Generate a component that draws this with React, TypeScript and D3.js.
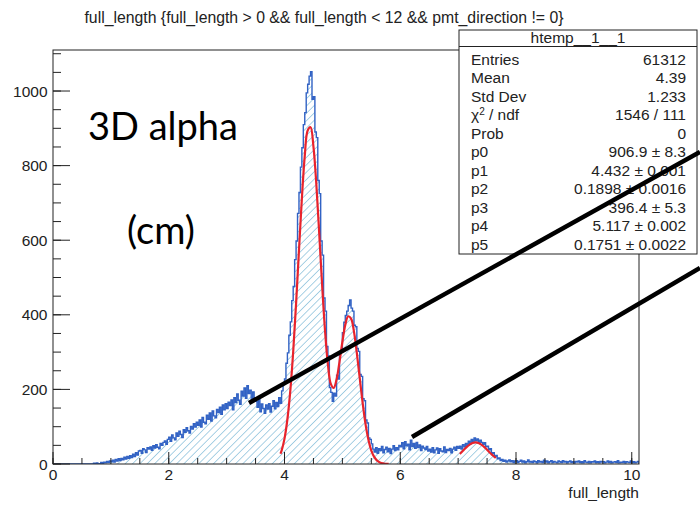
import React from "react";
import * as d3 from "d3";

// ---------------- data ----------------
const BIN_WIDTH = 0.025;
const X_DOMAIN: [number, number] = [0, 10.125];
const Y_DOMAIN: [number, number] = [0, 1110];

// histogram bin contents (bins of 0.025 from 0 to 10.125)
const counts: number[] = [
  0, 0, 0, 0, 0, 0, 0, 0, 0, 0, 0, 0, 0, 0, 0, 0, 0, 0, 0, 0,
  0, 0, 0, 0, 0, 0, 0, 0, 2, 0, 3, 1, 0, 4, 2, 5, 3, 7, 4, 8,
  6, 10, 5, 12, 8, 14, 9, 15, 11, 18, 13, 20, 15, 22, 17, 26, 20, 30, 24, 35,
  36, 29, 41, 38, 31, 44, 40, 46, 37, 49, 43, 52, 45, 41, 55, 50, 58, 62, 53, 66,
  72, 61, 78, 70, 65, 83, 74, 88, 79, 71, 92, 85, 97, 89, 83, 101, 94, 108, 99, 112,
  104, 118, 99, 125, 112, 108, 131, 120, 137, 115, 142, 129, 124, 146, 138, 152, 133, 158, 145, 162,
  149, 166, 157, 172, 145, 178, 165, 188, 171, 160, 195, 182, 204, 176, 210, 189, 198, 172, 193, 178,
  168, 152, 175, 140, 161, 149, 136, 158, 147, 162, 139, 155, 170, 148, 165, 154, 178, 163, 196, 215,
  228, 270, 298, 345, 381, 438, 476, 548, 598, 672, 728, 796, 848, 910, 942, 995, 1018, 1040, 1052, 978,
  985, 890, 875, 760, 725, 598, 560, 445, 410, 315, 290, 205, 192, 168, 190, 182, 238, 228, 298, 300,
  352, 380, 398, 410, 425, 440, 418, 410, 372, 368, 310, 302, 240, 235, 175, 170, 118, 110, 70, 66,
  54, 40, 32, 44, 29, 41, 36, 47, 30, 39, 45, 33, 42, 28, 40, 49, 36, 44, 38, 50,
  46, 57, 41, 60, 49, 53, 38, 64, 47, 55, 42, 58, 44, 51, 36, 48, 43, 39, 47, 35,
  40, 32, 44, 30, 38, 43, 29, 41, 35, 33, 46, 31, 39, 36, 42, 30, 40, 45, 37, 47,
  42, 48, 40, 52, 46, 55, 50, 61, 54, 66, 58, 70, 62, 67, 56, 64, 58, 52, 57, 47,
  48, 38, 41, 29, 30, 20, 23, 14, 16, 9, 12, 7, 10, 5, 8, 11, 6, 9, 4, 8,
  9, 4, 7, 10, 5, 8, 3, 6, 11, 5, 7, 4, 8, 6, 3, 9, 5, 7, 4, 10,
  5, 8, 3, 6, 9, 4, 7, 5, 3, 8, 6, 4, 9, 5, 7, 3, 6, 8, 4, 6,
  3, 7, 5, 8, 4, 6, 3, 9, 5, 4, 7, 3, 6, 5, 8, 4, 6, 3, 7, 5,
  6, 3, 5, 8, 4, 7, 3, 5, 6, 4, 9, 3, 5, 4, 7, 3, 6, 5, 4, 8,
  4, 6, 3, 5, 7,
];

// double-gaussian fit curve (red), sampled values
const fit1X: number[] = [
  3.93, 3.95, 4.0, 4.05, 4.1, 4.15, 4.2, 4.25, 4.3, 4.35, 4.4, 4.45, 4.5, 4.55,
  4.6, 4.65, 4.7, 4.75, 4.8, 4.85, 4.9, 4.95, 5.0, 5.05, 5.1, 5.15, 5.2, 5.25,
  5.3, 5.35, 5.4, 5.45, 5.5, 5.55, 5.6, 5.65, 5.7, 5.75, 5.8,
];
const fit1Y: number[] = [
  27.5, 36, 68, 120, 196, 301, 430, 573, 712, 826, 894, 903, 851, 750,
  618, 480, 358, 267, 215, 204, 227, 274, 327, 373, 396, 390, 355, 297,
  230, 164, 107, 65, 36, 19, 9, 4, 1.6, 0.6, 0.2,
];
// second small fit (red) near 7.3
const fit2X: number[] = [7.03, 7.05, 7.1, 7.15, 7.2, 7.25, 7.3, 7.35, 7.4, 7.45, 7.5, 7.55, 7.6, 7.65];
const fit2Y: number[] = [27, 30, 38, 46, 52, 56.5, 58, 56.5, 52, 46, 38, 30, 23, 16];

const xMajorTicks: number[] = [0, 2, 4, 6, 8, 10];
const xTickLabels: string[] = ["0", "2", "4", "6", "8", "10"];
const yMajorTicks: number[] = [0, 200, 400, 600, 800, 1000];
const yTickLabels: string[] = ["0", "200", "400", "600", "800", "1000"];

const titleText = "full_length {full_length > 0 && full_length < 12 && pmt_direction != 0}";
const xAxisTitle = "full_length";
const statsTitle = "htemp__1__1";
const statsLabels: string[] = ["Entries", "Mean", "Std Dev", "CHI", "Prob", "p0", "p1", "p2", "p3", "p4", "p5"];
const statsValues: string[] = [
  "61312", "4.39", "1.233", "1546 / 111", "0",
  "906.9 ± 8.3", "4.432 ± 0.001", "0.1898 ± 0.0016",
  "396.4 ± 5.3", "5.117 ± 0.002", "0.1751 ± 0.0022",
];

// hand-drawn annotation lines, in data coordinates
const annotationLines: { x1: number; y1: number; x2: number; y2: number }[] = [
  { x1: 3.386, y1: 163.5, x2: 11.178, y2: 836.5 },
  { x1: 6.203, y1: 72.4, x2: 11.178, y2: 525.5 },
];
const overlayTexts: string[] = ["3D alpha", "(cm)"];

// ---------------- layout ----------------
const W = 700;
const H = 507;
const FRAME = { left: 53, right: 639, top: 50, bottom: 464 };
const FONT = "'Liberation Sans', Arial, Helvetica, sans-serif";
const FS = 15.5;

export default function App() {
  const xs = d3.scaleLinear().domain(X_DOMAIN).range([FRAME.left, FRAME.right]);
  const ys = d3.scaleLinear().domain(Y_DOMAIN).range([FRAME.bottom, FRAME.top]);

  // histogram step path
  const pts: [number, number][] = [];
  pts.push([xs(0), ys(0)]);
  counts.forEach((c, i) => {
    const x0 = xs(i * BIN_WIDTH);
    const x1 = xs((i + 1) * BIN_WIDTH);
    pts.push([x0, ys(c)]);
    pts.push([x1, ys(c)]);
  });
  pts.push([xs(counts.length * BIN_WIDTH), ys(0)]);
  const stepLine = d3.line<[number, number]>()(pts) || "";
  const stepArea = stepLine + "Z";

  const mkFit = (xsArr: number[], ysArr: number[]) =>
    d3
      .line<number>()
      .x((d) => xs(d))
      .y((_, i) => ys(ysArr[i]))
      .curve(d3.curveCatmullRom.alpha(0.5))(xsArr) || "";

  const xMinor = d3.range(0, 10.125, 0.5);
  const yMinor = d3.range(0, 1110, 50);

  const statsBox = { x0: 459, x1: 697, y0: 30, y1: 254 };
  const rowY0 = 64.5;
  const rowDy = 18.55;

  return (
    <svg
      width={W}
      height={H}
      viewBox={`0 0 ${W} ${H}`}
      style={{ position: "absolute", left: 0, top: 0, background: "#fff" }}
    >
      <defs>
        <pattern
          id="hatch"
          patternUnits="userSpaceOnUse"
          width={5.2}
          height={5.2}
          patternTransform="rotate(45)"
        >
          <line x1={0} y1={0} x2={0} y2={5.2} stroke="#7cb9d7" strokeWidth={1.3} />
        </pattern>
        <clipPath id="frameClip">
          <rect x={FRAME.left} y={FRAME.top} width={FRAME.right - FRAME.left} height={FRAME.bottom - FRAME.top} />
        </clipPath>
      </defs>
      <rect x={0} y={0} width={W} height={H} fill="#fff" />

      {/* title */}
      <text x={324} y={23} fontFamily={FONT} fontSize={15.8} textAnchor="middle" fill="#222">
        {titleText}
      </text>

      {/* histogram */}
      <g clipPath="url(#frameClip)">
        <path d={stepArea} fill="url(#hatch)" stroke="none" />
        <path d={stepLine} fill="none" stroke="#3162c4" strokeWidth={1.4} strokeLinejoin="miter" />
        <path d={mkFit(fit1X, fit1Y)} fill="none" stroke="#e8232c" strokeWidth={2.2} />
        <path d={mkFit(fit2X, fit2Y)} fill="none" stroke="#e8232c" strokeWidth={2.2} />
      </g>

      {/* frame */}
      <rect
        x={FRAME.left}
        y={FRAME.top}
        width={FRAME.right - FRAME.left}
        height={FRAME.bottom - FRAME.top}
        fill="none"
        stroke="#222"
        strokeWidth={1}
      />

      {/* x axis ticks */}
      {xMinor.map((v) => (
        <line key={"xm" + v} x1={xs(v)} x2={xs(v)} y1={FRAME.bottom} y2={FRAME.bottom - 6} stroke="#222" strokeWidth={1} />
      ))}
      {xMajorTicks.map((v) => (
        <line key={"xM" + v} x1={xs(v)} x2={xs(v)} y1={FRAME.bottom} y2={FRAME.bottom - 12} stroke="#222" strokeWidth={1} />
      ))}
      {xMajorTicks.map((v, i) => (
        <text key={"xl" + v} x={xs(v)} y={480} fontFamily={FONT} fontSize={FS} textAnchor="middle" fill="#222">
          {xTickLabels[i]}
        </text>
      ))}
      <text x={FRAME.right} y={498} fontFamily={FONT} fontSize={FS} textAnchor="end" fill="#222">
        {xAxisTitle}
      </text>

      {/* y axis ticks */}
      {yMinor.map((v) => (
        <line key={"ym" + v} x1={FRAME.left} x2={FRAME.left + 8} y1={ys(v)} y2={ys(v)} stroke="#222" strokeWidth={1} />
      ))}
      {yMajorTicks.map((v) => (
        <line key={"yM" + v} x1={FRAME.left} x2={FRAME.left + 17} y1={ys(v)} y2={ys(v)} stroke="#222" strokeWidth={1} />
      ))}
      {yMajorTicks.map((v, i) => (
        <text key={"yl" + v} x={47.5} y={ys(v) + 5.5} fontFamily={FONT} fontSize={FS} textAnchor="end" fill="#222">
          {yTickLabels[i]}
        </text>
      ))}

      {/* stats box */}
      <rect
        x={statsBox.x0}
        y={statsBox.y0}
        width={statsBox.x1 - statsBox.x0}
        height={statsBox.y1 - statsBox.y0}
        fill="#fff"
        stroke="#222"
        strokeWidth={1}
      />
      <line x1={statsBox.x0} x2={statsBox.x1} y1={46.5} y2={46.5} stroke="#222" strokeWidth={1} />
      <text x={(statsBox.x0 + statsBox.x1) / 2} y={43} fontFamily={FONT} fontSize={FS} textAnchor="middle" fill="#222">
        {statsTitle}
      </text>
      {statsLabels.map((lab, i) => (
        <text key={"sl" + i} x={471} y={rowY0 + i * rowDy} fontFamily={FONT} fontSize={FS} fill="#222">
          {lab === "CHI" ? (
            <>
              χ<tspan dy={-5.5} fontSize={10}>2</tspan>
              <tspan dy={5.5}> / ndf</tspan>
            </>
          ) : (
            lab
          )}
        </text>
      ))}
      {statsValues.map((val, i) => (
        <text key={"sv" + i} x={686} y={rowY0 + i * rowDy} fontFamily={FONT} fontSize={FS} textAnchor="end" fill="#222">
          {val}
        </text>
      ))}

      {/* overlay annotation */}
      {annotationLines.map((l, i) => (
        <line
          key={"al" + i}
          x1={xs(l.x1)}
          y1={ys(l.y1)}
          x2={xs(l.x2)}
          y2={ys(l.y2)}
          stroke="#000"
          strokeWidth={4.5}
        />
      ))}
      <text x={88} y={140} fontFamily="Lato, 'Open Sans', sans-serif" fontSize={38} fill="#000">
        {overlayTexts[0]}
      </text>
      <text x={127} y={244} fontFamily="Lato, 'Open Sans', sans-serif" fontSize={38} fill="#000">
        {overlayTexts[1]}
      </text>
    </svg>
  );
}
